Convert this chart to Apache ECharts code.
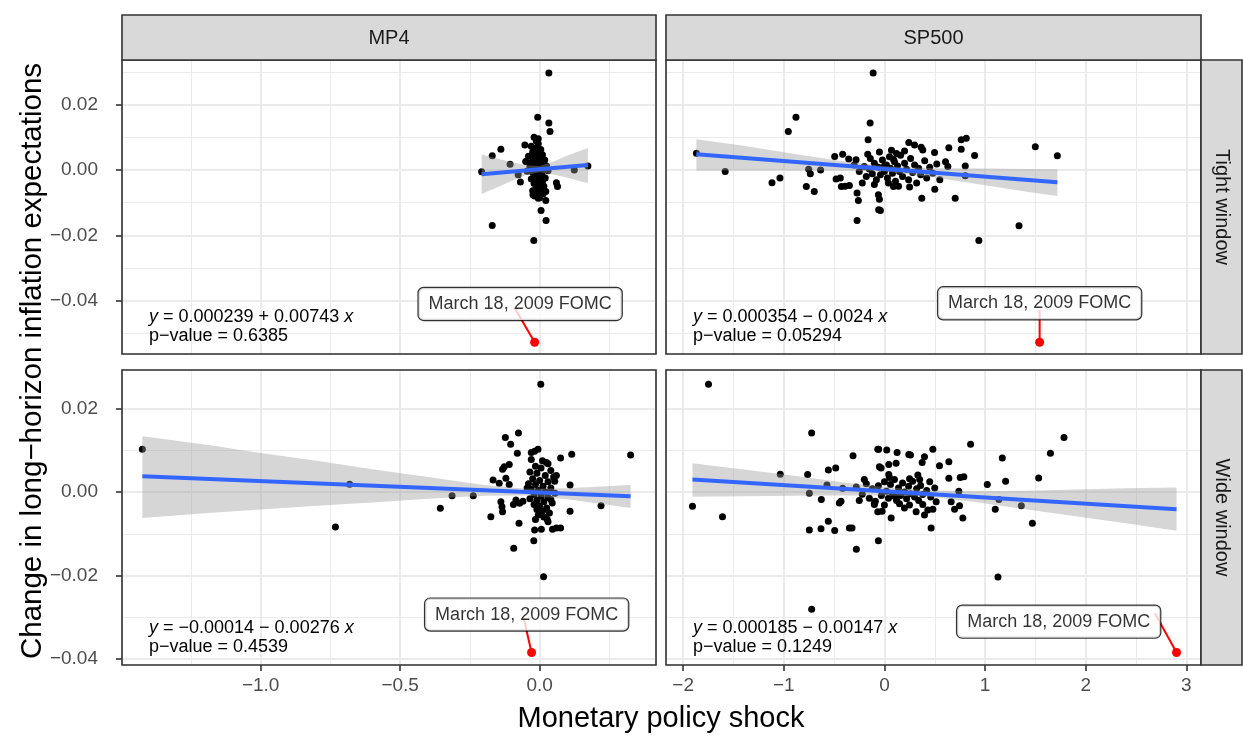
<!DOCTYPE html>
<html>
<head>
<meta charset="utf-8">
<script src="https://cdn.jsdelivr.net/npm/echarts@6/dist/echarts.min.js"></script>
<style>
  html, body { margin: 0; padding: 0; background: #fff; }
  #chart { width: 1243px; height: 736px; }
</style>
</head>
<body>
<div id="chart"></div>
<script>
// Facets: rows = window (Tight / Wide), cols = shock (MP4 / SP500)
var colNames = ['MP4', 'SP500'];
var rowNames = ['Tight window', 'Wide window'];

var tlPoints = [
  [0.033,0.0296],[-0.007,0.0161],[0.033,0.0143],[0.037,0.0117],[-0.005,0.0095],[-0.053,0.0076],[-0.139,0.0063],
  [-0.170,0.0043],[-0.106,0.0017],[-0.208,-0.0006],[-0.077,-0.0015],[-0.069,-0.0037],[0.124,0.0000],[0.173,0.0012],
  [0.060,-0.0039],[0.064,-0.0051],[0.022,-0.0066],[-0.024,-0.0076],[-0.005,-0.0087],[0.022,-0.0094],[0.005,-0.0124],
  [0.023,-0.0155],[-0.170,-0.0170],[-0.021,-0.0216],
  [-0.020,0.0100],[-0.012,0.0088],[-0.005,0.0080],[-0.030,0.0072],[-0.015,0.0066],[0.004,0.0062],[-0.025,0.0055],
  [-0.008,0.0050],[0.010,0.0046],[-0.040,0.0042],[-0.018,0.0038],[0.000,0.0034],[0.018,0.0030],[-0.050,0.0026],
  [-0.028,0.0024],[-0.010,0.0020],[0.006,0.0016],[0.025,0.0012],[-0.035,0.0010],[-0.020,0.0006],[-0.003,0.0004],
  [0.012,0.0000],[0.030,-0.0003],[-0.045,-0.0004],[-0.025,-0.0008],[-0.008,-0.0010],[0.008,-0.0014],[-0.015,-0.0018],
  [0.002,-0.0022],[0.020,-0.0025],[-0.030,-0.0028],[-0.010,-0.0032],[0.010,-0.0036],[-0.020,-0.0042],[0.000,-0.0046],
  [0.015,-0.0050],[-0.012,-0.0056],[0.005,-0.0060],[-0.025,-0.0064],[-0.005,-0.0070],[0.012,-0.0074],[-0.018,-0.0080],
  [0.000,-0.0085]
];
var trPoints = [
  [-0.112,0.0296],[-0.879,0.0161],[-0.955,0.0117],[-0.142,0.0143],[-0.162,0.0092],[-1.868,0.0051],[-1.582,-0.0005],
  [-1.117,-0.0039],[-1.038,-0.0025],[-0.753,0.0002],[-0.736,-0.0012],[-0.634,0.0000],[-0.776,-0.0051],[-0.697,-0.0066],
  [-0.494,0.0041],[-0.415,0.0048],[-0.355,0.0033],[-0.282,0.0031],[-0.480,-0.0028],[-0.438,-0.0025],[-0.428,-0.0051],
  [-0.348,-0.0048],[-0.390,-0.0050],[-0.272,-0.0071],[-0.259,-0.0094],[-0.272,-0.0155],[-0.166,0.0048],[-0.060,-0.0076],
  [-0.057,-0.0122],[0.242,0.0084],[0.299,0.0076],[0.365,0.0069],[0.381,0.0061],[0.763,0.0092],[0.813,0.0097],
  [0.640,0.0068],[0.498,0.0053],[0.763,0.0063],[0.896,0.0044],[1.499,0.0071],[1.718,0.0043],[0.607,0.0025],
  [0.630,0.0010],[0.803,0.0012],[0.803,-0.0018],[0.500,-0.0059],[0.371,-0.0087],[0.703,-0.0087],[0.090,-0.0051],
  [-0.050,-0.0090],[-0.040,-0.0124],[1.337,-0.0171],[0.938,-0.0216],
  [-0.25,-0.0005],[-0.20,0.0010],[-0.18,-0.0020],[-0.15,0.0003],[-0.12,-0.0012],[-0.10,0.0020],[-0.08,-0.0030],
  [-0.06,0.0008],[-0.04,-0.0015],[-0.02,0.0030],[0.00,-0.0005],[0.02,0.0015],[0.03,-0.0025],[0.05,0.0040],
  [0.06,0.0005],[0.08,-0.0010],[0.10,0.0025],[0.11,-0.0035],[0.13,0.0012],[0.15,-0.0005],[0.16,0.0045],
  [0.18,-0.0020],[0.20,0.0020],[0.22,0.0002],[0.24,-0.0030],[0.26,0.0035],[0.28,-0.0008],[0.30,0.0015],
  [0.32,-0.0040],[0.34,0.0005],[0.36,-0.0015],[0.40,0.0028],[0.42,-0.0025],[0.45,0.0008],[0.48,-0.0010],
  [0.52,0.0018],[0.55,-0.0030],[-0.22,-0.0040],[-0.05,0.0055],[0.07,0.0060],[0.12,0.0050],[0.20,0.0058],
  [-0.10,-0.0045],[0.00,0.0012],[0.04,-0.0040],[0.14,-0.0050],[0.25,-0.0052],[-0.30,0.0015],[-0.14,0.0035],
  [0.09,0.0032]
];
var blPoints = [
  [-1.424,0.0103],[-0.732,-0.0084],[-0.681,0.0019],[0.004,0.0259],[-0.123,0.0131],[-0.076,0.0142],[-0.104,0.0115],
  [-0.080,0.0093],[-0.006,0.0103],[-0.018,0.0098],[-0.030,0.0095],[0.075,0.0082],[0.115,0.0091],[0.326,0.0089],
  [-0.127,0.0061],[-0.109,0.0066],[-0.133,0.0055],[0.024,0.0071],[-0.167,0.0029],[-0.145,0.0021],[-0.121,0.0033],
  [-0.109,0.0018],[0.054,0.0026],[0.109,0.0017],[-0.314,-0.0009],[-0.238,-0.0009],[-0.356,-0.0039],[-0.139,-0.0023],
  [-0.135,-0.0035],[-0.133,-0.0047],[-0.085,-0.0019],[-0.072,-0.0027],[-0.094,-0.0030],[-0.060,-0.0022],[-0.175,-0.0059],
  [-0.074,-0.0075],[0.109,-0.0046],[0.220,-0.0033],[0.027,-0.0065],[0.030,-0.0071],[-0.018,-0.0091],[0.006,-0.0089],
  [0.046,-0.0089],[0.060,-0.0086],[0.075,-0.0086],[-0.021,-0.0117],[-0.093,-0.0135],[0.014,-0.0203],
  [-0.030,0.0078],[0.010,0.0075],[0.030,0.0068],[-0.015,0.0062],[0.005,0.0058],[0.040,0.0052],[-0.035,0.0048],
  [-0.010,0.0045],[0.020,0.0040],[0.050,0.0036],[-0.025,0.0032],[0.000,0.0028],[0.030,0.0025],[-0.040,0.0020],
  [-0.015,0.0018],[0.012,0.0014],[0.040,0.0010],[-0.030,0.0006],[-0.005,0.0004],[0.020,0.0000],[0.055,-0.0003],
  [-0.020,-0.0006],[0.005,-0.0010],[0.030,-0.0013],[-0.035,-0.0016],[-0.010,-0.0020],[0.015,-0.0023],[0.045,-0.0026],
  [-0.020,-0.0030],[0.000,-0.0034],[0.025,-0.0038],[-0.010,-0.0042],[0.010,-0.0046],[0.035,-0.0050],[-0.005,-0.0055],
  [0.015,-0.0060],[-0.015,-0.0066],[0.040,-0.0018],[-0.045,0.0010],[0.060,0.0040]
];
var brPoints = [
  [-1.748,0.0259],[-0.723,0.0142],[-0.312,0.0087],[-0.066,0.0103],[-0.557,0.0053],[-0.484,0.0058],[-1.035,0.0043],
  [-0.763,0.0042],[-0.571,0.0017],[-0.746,-0.0003],[-0.415,0.0009],[-1.907,-0.0034],[-1.609,-0.0059],[-0.627,-0.0018],
  [-0.448,-0.0026],[-0.431,-0.0022],[-0.557,-0.0070],[-0.746,-0.0091],[-0.630,-0.0088],[-0.494,-0.0092],[-0.348,-0.0086],
  [-0.322,-0.0086],[-0.279,-0.0137],[-0.723,-0.0281],[-0.050,0.0061],[-0.066,-0.0047],[-0.060,-0.0117],
  [-0.057,0.0103],[0.023,0.0101],[0.126,0.0095],[0.242,0.0090],[0.259,0.0089],[0.398,0.0085],[0.375,0.0071],
  [0.481,0.0103],[0.856,0.0115],[0.547,0.0063],[0.640,0.0073],[0.043,0.0066],[0.116,0.0069],[-0.033,0.0058],
  [0.043,0.0042],[0.332,0.0041],[0.640,0.0033],[0.753,0.0035],[0.789,0.0037],[1.022,0.0018],[1.171,0.0082],
  [1.204,0.0026],[1.532,0.0034],[1.649,0.0093],[1.784,0.0131],[0.739,0.0002],[0.663,-0.0023],[0.697,-0.0041],
  [0.746,-0.0033],[0.779,-0.0062],[0.464,-0.0086],[1.137,-0.0018],[1.101,-0.0041],[1.360,-0.0033],[1.470,-0.0075],
  [1.128,-0.0204],[0.067,-0.0062],[-0.023,-0.0046],[0.000,-0.0031],[-0.100,-0.0027],[0.199,-0.0038],[0.249,-0.0031],
  [0.315,-0.0047],[0.381,-0.0030],[0.398,-0.0055],[0.431,-0.0043],[0.481,-0.0041],[0.514,-0.0023],
  [-0.28,0.0012],[-0.22,-0.0005],[-0.18,0.0020],[-0.15,-0.0015],[-0.12,0.0008],[-0.09,-0.0022],[-0.06,0.0015],
  [-0.03,-0.0008],[0.00,0.0025],[0.02,0.0002],[0.04,-0.0015],[0.06,0.0018],[0.08,-0.0004],[0.10,0.0030],
  [0.12,-0.0020],[0.14,0.0010],[0.16,-0.0008],[0.18,0.0022],[0.20,0.0000],[0.22,-0.0016],[0.24,0.0014],
  [0.26,-0.0004],[0.28,0.0026],[0.30,-0.0012],[0.32,0.0008],[0.34,-0.0020],[0.36,0.0016],[0.38,-0.0006],
  [0.42,0.0004],[0.46,-0.0012],[0.50,0.0010],[-0.20,0.0030],[-0.10,-0.0030],[0.05,0.0035],[0.15,-0.0028],
  [0.25,0.0032],[0.35,0.0030],[-0.25,-0.0020],[0.45,0.0025],[0.10,-0.0010]
];

// fitted lines (end points) and 95% bands
var tlFit = [[-0.208, -0.0013], [0.173, 0.0015]];
var trFit = [[-1.868, 0.0048], [1.718, -0.0038]];
var blFit = [[-1.424, 0.0038], [0.326, -0.0010]];
var brFit = [[-1.907, 0.0030], [2.902, -0.0041]];

var tlBandX = [-0.208, -0.15, -0.10, -0.05, 0, 0.05, 0.10, 0.173];
var tlBandLo = [-0.0074, -0.0052, -0.0034, -0.0016, -0.0007, -0.0014, -0.0024, -0.0041];
var tlBandHi = [0.0047, 0.0034, 0.0024, 0.0014, 0.0012, 0.0026, 0.0044, 0.0067];
var trBandX = [-1.868, -1.4, -1.0, -0.5, 0, 0.5, 1.0, 1.4, 1.718];
var trBandLo = [-0.0002, -0.0002, -0.0002, -0.0002, -0.0005, -0.0023, -0.0047, -0.0066, -0.0080];
var trBandHi = [0.0094, 0.0074, 0.0054, 0.0030, 0.0011, 0.0005, 0.0004, 0.0003, 0.0002];
var blBandX = [-1.424, -1.2, -1.0, -0.8, -0.6, -0.4, -0.2, -0.05, 0.1, 0.326];
var blBandLo = [-0.0062, -0.0051, -0.0042, -0.0033, -0.0025, -0.0016, -0.0009, -0.0008, -0.0017, -0.0038];
var blBandHi = [0.0134, 0.0114, 0.0094, 0.0075, 0.0055, 0.0036, 0.0017, 0.0008, 0.0009, 0.0017];
var brBandX = [-1.907, -1.4, -0.9, -0.4, 0, 0.45, 0.9, 1.4, 1.9, 2.4, 2.902];
var brBandLo = [-0.0011, -0.0010, -0.0009, -0.0008, -0.0008, -0.0011, -0.0024, -0.0041, -0.0058, -0.0075, -0.0093];
var brBandHi = [0.0069, 0.0054, 0.0039, 0.0023, 0.0012, 0.0004, 0.0002, 0.0003, 0.0006, 0.0009, 0.0011];

// March 18, 2009 FOMC: point, label centre, start of the pointer
var fomcPoints = [[-0.018, -0.0527], [1.542, -0.0527], [-0.029, -0.0385], [2.902, -0.0385]];
var fomcLabels = [[-0.070, -0.0410], [1.542, -0.0408], [-0.0466, -0.0294], [1.731, -0.0311]];
var fomcStarts = [[-0.0895, -0.0422], [1.542, -0.0428], [-0.0573, -0.0302], [2.687, -0.0291]];
var fomcText = 'March 18, 2009 FOMC';

var eqIntercept = ['0.000239', '0.000354', '\u22120.00014', '0.000185'];
var eqSign = ['+', '\u2212', '\u2212', '\u2212'];
var eqSlope = ['0.00743', '0.0024', '0.00276', '0.00147'];
var pValues = ['0.6385', '0.05294', '0.4539', '0.1249'];

var xRanges = [[-1.497, 0.417], [-2.17, 3.145]];
var yRanges = [[-0.0563, 0.0336], [-0.0415, 0.0293]];
var xSteps = [0.5, 1];
var ySteps = [0.02, 0.02];

var font = 'Liberation Sans, Arial, sans-serif';
var colLeft = [122, 666], colWidth = [534, 535];
var rowTop = [60, 370], rowHeight = [294, 295];

function signed(dec) {
  return function (v) {
    var s = Math.abs(v).toFixed(dec);
    return (v < -1e-9 ? '\u2212' : '') + s;
  };
}

var allPoints = [tlPoints, trPoints, blPoints, brPoints];
var allFits = [tlFit, trFit, blFit, brFit];
var allBands = [
  [tlBandX, tlBandLo, tlBandHi], [trBandX, trBandLo, trBandHi],
  [blBandX, blBandLo, blBandHi], [brBandX, brBandLo, brBandHi]
];

var grids = [], xAxes = [], yAxes = [], series = [], graphics = [];

for (var gi = 0; gi < 4; gi++) {
  var col = gi % 2, row = Math.floor(gi / 2);
  grids.push({
    left: colLeft[col], top: rowTop[row], width: colWidth[col], height: rowHeight[row],
    show: true, backgroundColor: '#fff', borderWidth: 0
  });
  xAxes.push({
    gridIndex: gi, type: 'value', min: xRanges[col][0], max: xRanges[col][1],
    minInterval: xSteps[col], maxInterval: xSteps[col], position: 'bottom',
    axisLine: { show: false, onZero: false },
    axisTick: { show: row === 1, length: 6, lineStyle: { color: '#333333', width: 1.6 } },
    axisLabel: { show: row === 1, showMinLabel: false, showMaxLabel: false, color: '#4D4D4D',
      fontSize: 19, fontFamily: font, margin: 11, formatter: signed(col === 0 ? 1 : 0) },
    splitLine: { show: true, lineStyle: { color: '#EBEBEB', width: 2 } },
    minorTick: { show: false, splitNumber: 2 },
    minorSplitLine: { show: true, lineStyle: { color: '#EBEBEB', width: 1 } }
  });
  yAxes.push({
    gridIndex: gi, type: 'value', min: yRanges[row][0], max: yRanges[row][1],
    minInterval: ySteps[row], maxInterval: ySteps[row], position: 'left',
    axisLine: { show: false, onZero: false },
    axisTick: { show: col === 0, length: 6, lineStyle: { color: '#333333', width: 1.6 } },
    axisLabel: { show: col === 0, showMinLabel: false, showMaxLabel: false, color: '#4D4D4D',
      fontSize: 19, fontFamily: font, margin: 24, formatter: signed(2) },
    splitLine: { show: true, lineStyle: { color: '#EBEBEB', width: 2 } },
    minorTick: { show: false, splitNumber: 2 },
    minorSplitLine: { show: true, lineStyle: { color: '#EBEBEB', width: 1 } }
  });

  series.push({
    type: 'scatter', xAxisIndex: gi, yAxisIndex: gi, z: 2, silent: true,
    symbolSize: 7, itemStyle: { color: '#000', opacity: 1 }, data: allPoints[gi]
  });
  (function (band, idx) {
    series.push({
      type: 'custom', xAxisIndex: idx, yAxisIndex: idx, z: 3, silent: true,
      data: [[band[0][0], band[1][0]]],
      renderItem: function (params, api) {
        var pts = [], i;
        for (i = 0; i < band[0].length; i++) pts.push(api.coord([band[0][i], band[2][i]]));
        for (i = band[0].length - 1; i >= 0; i--) pts.push(api.coord([band[0][i], band[1][i]]));
        return { type: 'polygon', shape: { points: pts }, style: { fill: 'rgba(153,153,153,0.4)' } };
      }
    });
  })(allBands[gi], gi);
  series.push({
    type: 'line', xAxisIndex: gi, yAxisIndex: gi, z: 4, silent: true, showSymbol: false,
    lineStyle: { color: '#3366FF', width: 4 }, data: allFits[gi]
  });
  series.push({
    type: 'line', xAxisIndex: gi, yAxisIndex: gi, z: 5, silent: true, showSymbol: false,
    lineStyle: { color: '#FF0000', width: 2 }, data: [fomcStarts[gi], fomcPoints[gi]]
  });
  series.push({
    type: 'scatter', xAxisIndex: gi, yAxisIndex: gi, z: 6, silent: true,
    symbolSize: 9, itemStyle: { color: '#FF0000', opacity: 1 }, data: [fomcPoints[gi]]
  });
  series.push({
    type: 'scatter', xAxisIndex: gi, yAxisIndex: gi, z: 7, silent: true,
    symbolSize: 1, itemStyle: { color: 'rgba(0,0,0,0)' }, data: [fomcLabels[gi]],
    label: {
      show: true, position: 'inside', formatter: fomcText, color: '#000',
      fontSize: 18, fontFamily: font, backgroundColor: '#fff', borderColor: '#000',
      borderWidth: 1.2, borderRadius: 5, padding: [7, 10, 5, 10], lineHeight: 20
    }
  });

  // regression equation and p-value
  var ex = colLeft[col] + 27, eyBottom = rowTop[row] + rowHeight[row];
  graphics.push({
    type: 'text', x: ex, y: eyBottom - 37, z: 100,
    style: {
      text: '{i|y} {n|= ' + eqIntercept[gi] + ' ' + eqSign[gi] + ' ' + eqSlope[gi] + '} {i|x}',
      rich: {
        i: { fontStyle: 'italic', fontSize: 18, fontFamily: font, fill: '#000' },
        n: { fontSize: 18, fontFamily: font, fill: '#000' }
      },
      font: '18px ' + font, fill: '#000', textAlign: 'left', textVerticalAlign: 'middle',
      align: 'left', verticalAlign: 'middle'
    }
  });
  graphics.push({
    type: 'text', x: ex, y: eyBottom - 18, z: 100,
    style: {
      text: 'p\u2212value = ' + pValues[gi], font: '18px ' + font, fill: '#000',
      textAlign: 'left', textVerticalAlign: 'middle', align: 'left', verticalAlign: 'middle'
    }
  });
  // panel border on top of everything
  graphics.push({
    type: 'rect', z: 100, silent: true,
    shape: { x: colLeft[col], y: rowTop[row], width: colWidth[col], height: rowHeight[row] },
    style: { fill: 'none', stroke: '#333333', lineWidth: 1.6 }
  });
}

// strips
for (var c = 0; c < 2; c++) {
  graphics.push({
    type: 'rect', z: 100, shape: { x: colLeft[c], y: 15, width: colWidth[c], height: 45 },
    style: { fill: '#D9D9D9', stroke: '#333333', lineWidth: 1.6 }
  });
  graphics.push({
    type: 'text', x: colLeft[c] + colWidth[c] / 2, y: 38, z: 101,
    style: { text: colNames[c], font: '20px ' + font, fill: '#1A1A1A',
      textAlign: 'center', textVerticalAlign: 'middle', align: 'center', verticalAlign: 'middle' }
  });
}
for (var r = 0; r < 2; r++) {
  graphics.push({
    type: 'rect', z: 100, shape: { x: 1201, y: rowTop[r], width: 41, height: rowHeight[r] },
    style: { fill: '#D9D9D9', stroke: '#333333', lineWidth: 1.6 }
  });
  graphics.push({
    type: 'text', x: 1222, y: rowTop[r] + rowHeight[r] / 2, rotation: -Math.PI / 2, z: 101,
    style: { text: rowNames[r], font: '20px ' + font, fill: '#1A1A1A',
      textAlign: 'center', textVerticalAlign: 'middle', align: 'center', verticalAlign: 'middle' }
  });
}

// axis titles
graphics.push({
  type: 'text', x: 661, y: 719, z: 100,
  style: { text: 'Monetary policy shock', font: '29px ' + font, fill: '#000',
    textAlign: 'center', textVerticalAlign: 'middle', align: 'center', verticalAlign: 'middle' }
});
graphics.push({
  type: 'text', x: 33, y: 361, rotation: Math.PI / 2, z: 100,
  style: { text: 'Change in long\u2212horizon inflation expectations', font: '29.5px ' + font, fill: '#000',
    textAlign: 'center', textVerticalAlign: 'middle', align: 'center', verticalAlign: 'middle' }
});

var chart = echarts.init(document.getElementById('chart'), null, { renderer: 'canvas' });
chart.setOption({
  animation: false,
  backgroundColor: '#fff',
  textStyle: { fontFamily: font },
  grid: grids,
  xAxis: xAxes,
  yAxis: yAxes,
  series: series,
  graphic: { elements: graphics }
});
window.addEventListener('resize', function () { chart.resize(); });
</script>
</body>
</html>
